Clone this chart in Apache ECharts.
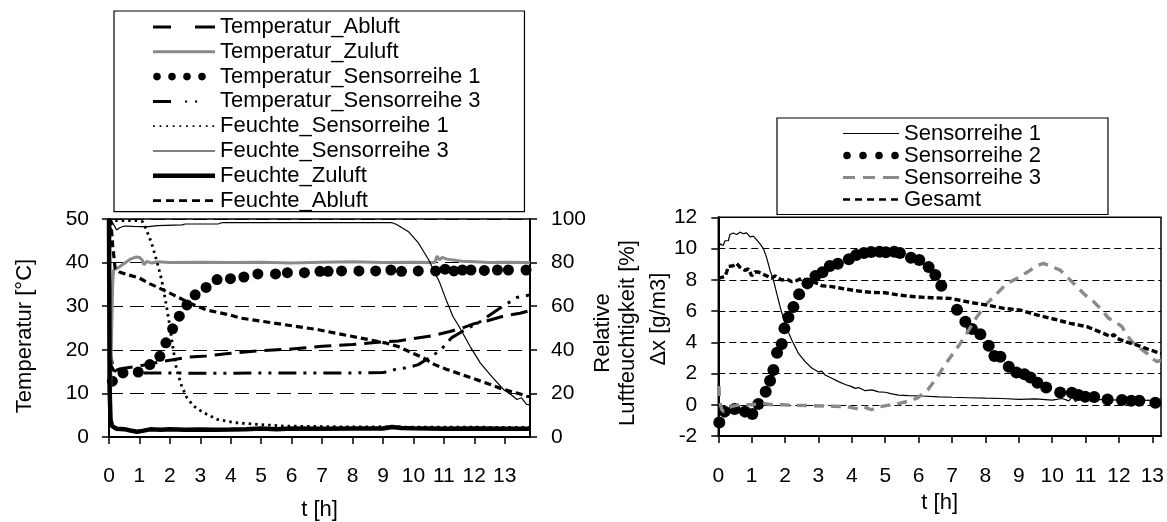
<!DOCTYPE html>
<html>
<head>
<meta charset="utf-8">
<script src="https://cdn.jsdelivr.net/npm/echarts@6/dist/echarts.min.js"></script>
<style>
html,body{margin:0;padding:0;background:#fff;}
#chart{width:1167px;height:522px;}
</style>
</head>
<body>
<div id="chart"></div>
<script>
// ---------- DATA ----------
const hourTicks = [0,1,2,3,4,5,6,7,8,9,10,11,12,13];

// Left chart: temperature [°C]  (left axis)
const temperaturAbluft = [[0,20.5],[0.05,19],[0.12,16.5],[0.2,15.2],[0.35,15.6],[0.6,15.9],[1,16.3],[1.5,17],[2,17.6],[2.6,18.3],[3.2,18.6],[4,19.2],[5,19.8],[6,20.2],[7,20.8],[8,21.2],[9,21.8],[9.5,22],[10,22.6],[10.6,23.2],[11.2,24.2],[11.6,25],[12,26],[12.4,26.6],[13,27.8],[13.5,28.4],[13.83,29]];
const temperaturZuluft = [[0.05,10],[0.09,25],[0.12,35],[0.15,38.3],[0.3,38.8],[0.5,39.8],[0.7,40.8],[0.9,41.3],[1.0,41.2],[1.1,40.5],[1.15,39.5],[1.25,40.3],[1.4,39.9],[1.6,40.2],[2,40],[3,40.1],[4,40],[5,40.1],[6,39.9],[7,40.1],[8,40.2],[9,40],[10,40.1],[10.7,40],[10.78,41.5],[10.85,40.6],[10.95,41.2],[11.1,40.8],[11.3,40.6],[11.6,40.3],[12,40.2],[12.5,40],[13,40.1],[13.83,40]];
const temperaturSensorreihe1 = [[0.11,12.8],[0.46,14.7],[0.96,14.9],[1.34,16.6],[1.67,18.5],[1.87,21.6],[2.09,24.8],[2.31,27.7],[2.56,30.3],[2.83,32.6],[3.19,34.3],[3.55,36.1],[3.99,36.3],[4.43,36.7],[4.89,37.4],[5.47,37.4],[5.86,37.7],[6.42,37.7],[6.93,38.0],[7.2,38.0],[7.64,38.1],[8.21,38.1],[8.76,38.1],[9.26,38.3],[9.61,38.0],[10.16,38.1],[10.73,38.1],[11.04,38.5],[11.33,38.1],[11.61,38.3],[11.89,38.3],[12.33,38.2],[12.76,38.3],[13.12,38.3],[13.7,38.3]];
const temperaturSensorreihe3 = [[0,18.5],[0.06,16.5],[0.15,15.3],[0.3,14.9],[0.6,14.7],[1,14.7],[2,14.7],[3,14.6],[4,14.6],[5,14.7],[6,14.7],[7,14.7],[8,14.7],[9,14.8],[9.2,15],[9.4,15.5],[9.8,15.9],[10.16,16.6],[10.6,18.5],[10.9,20],[11.26,22.8],[11.6,24.2],[12.2,26.5],[12.85,29.6],[13.4,32],[13.83,32.6]];

// Left chart: relative humidity [%]  (right axis)
const feuchteSensorreihe1 = [[0.04,95],[0.08,99.2],[0.3,99.3],[0.6,99.2],[0.9,99.3],[1.1,98.8],[1.23,95],[1.4,88.9],[1.56,81.2],[1.73,72.1],[1.89,59.9],[2.0,50.7],[2.11,40.1],[2.22,31],[2.39,23.3],[2.56,18],[2.78,14.2],[3.1,11.2],[3.55,8.1],[4.1,6.6],[4.87,5.8],[5.75,5],[7,4.8],[8,4.6],[9,4.7],[10,4.5],[11,4.5],[12,4.5],[13,4.4],[13.83,4.4]];
const feuchteSensorreihe3 = [[0,100],[0.08,99],[0.15,97.5],[0.25,95],[0.35,96],[0.5,96.8],[0.8,96.6],[1.05,96.5],[1.3,96.5],[1.6,97],[2.4,97.3],[2.5,97.7],[3.6,97.8],[3.7,98.3],[9.3,98.3],[9.45,97.5],[9.84,94.2],[10.17,88.9],[10.5,81.3],[10.87,70.6],[11.1,62],[11.3,55.3],[11.5,50.7],[11.86,41.6],[12.2,33.9],[12.57,27.8],[12.96,21.8],[13.2,19.5],[13.4,17.2],[13.55,18],[13.72,15],[13.83,14.8]];
const feuchteZuluft = [[0,100],[0.02,22],[0.05,8],[0.1,5],[0.25,3.8],[0.5,3.6],[0.7,3],[0.92,2.4],[1.1,2.8],[1.35,3.5],[1.7,3.3],[2,3.6],[2.5,3.3],[3,3.4],[3.5,3.3],[4,3.4],[4.5,3.6],[5,3.9],[5.5,3.5],[6,3.9],[7,3.8],[8,3.9],[9,3.9],[9.3,4.6],[9.6,4.1],[10,4],[11,3.8],[12,3.9],[13,3.8],[13.83,3.8]];
const feuchteAbluft = [[0,100],[0.06,99],[0.12,88],[0.2,77.5],[0.36,75.6],[0.6,74.5],[1.0,72.9],[1.3,70.5],[1.55,69],[2.1,65.3],[2.66,61.4],[3.2,58.3],[3.96,56],[4.3,54.6],[5.07,53],[5.78,51.5],[6.88,49.2],[7.97,46.2],[9.07,43.2],[9.5,41.5],[9.84,39.3],[10.3,36.5],[10.7,33.2],[11.1,31],[11.58,28.7],[12.36,24.9],[12.96,21.8],[13.4,20.2],[13.72,18.7],[13.83,18.5]];

// Right chart: Δx [g/m3]
const sensorreihe1 = [[0,9.9],[0.05,10.3],[0.15,10.2],[0.2,10.5],[0.3,10.5],[0.35,10.9],[0.45,11.0],[0.55,10.9],[0.65,11.05],[0.75,10.95],[0.85,11.0],[0.95,10.75],[1.05,10.8],[1.15,10.55],[1.25,10.3],[1.35,10.0],[1.45,9.4],[1.55,8.6],[1.65,7.98],[1.75,7.13],[1.85,6.28],[1.95,5.53],[2.05,4.89],[2.2,4.15],[2.4,3.29],[2.6,2.76],[2.8,2.35],[3.0,2.1],[3.1,2.15],[3.2,1.9],[3.4,1.7],[3.6,1.48],[3.8,1.3],[4.0,1.16],[4.1,1.05],[4.2,1.1],[4.4,0.9],[4.6,0.95],[4.8,0.82],[5.0,0.8],[5.2,0.7],[5.4,0.62],[5.7,0.58],[6.1,0.56],[6.6,0.51],[7.0,0.48],[7.5,0.45],[8,0.42],[8.5,0.4],[9,0.35],[9.5,0.38],[10,0.3],[10.3,0.4],[10.5,0.25],[10.6,0.5],[10.7,0.2],[10.8,0.45],[10.9,0.3],[11.1,0.35],[11.5,0.33],[12,0.3],[12.5,0.3],[13,0.28],[13.26,0.3]];
const sensorreihe2 = [[0.03,-1.13],[0.19,-0.44],[0.49,-0.27],[0.8,-0.44],[1.02,-0.59],[1.2,0.05],[1.42,0.84],[1.55,1.54],[1.65,2.22],[1.76,3.33],[1.9,3.89],[1.98,4.89],[2.1,5.6],[2.25,6.26],[2.42,7.07],[2.67,7.77],[2.91,8.24],[3.12,8.48],[3.34,8.88],[3.58,9.03],[3.91,9.31],[4.13,9.58],[4.36,9.71],[4.58,9.78],[4.83,9.8],[5.02,9.76],[5.27,9.8],[5.44,9.71],[5.77,9.41],[6.02,9.26],[6.3,8.82],[6.5,8.3],[6.68,7.62],[7.15,6.08],[7.4,5.32],[7.6,4.85],[7.85,4.51],[8.1,3.78],[8.27,3.12],[8.45,3.08],[8.7,2.44],[8.93,2.07],[9.17,1.95],[9.35,1.75],[9.56,1.41],[9.82,1.11],[10.24,0.79],[10.59,0.77],[10.79,0.62],[10.99,0.51],[11.26,0.49],[11.66,0.34],[12.09,0.3],[12.37,0.26],[12.61,0.26],[13.09,0.13]];
const sensorreihe3 = [[0.02,1.2],[0.04,0.2],[0.1,-0.3],[0.16,-0.44],[0.4,-0.1],[0.7,0.02],[1.0,0.0],[1.3,0.1],[1.6,0.0],[1.9,0.0],[2.29,-0.04],[2.69,-0.05],[3.09,-0.08],[3.49,-0.1],[3.88,-0.13],[4.18,-0.26],[4.38,-0.15],[4.58,-0.32],[4.78,-0.15],[5.07,-0.04],[5.37,0.05],[5.67,0.22],[5.97,0.44],[6.27,0.94],[6.46,1.48],[6.61,1.95],[6.75,2.44],[7.0,3.18],[7.25,3.93],[7.5,4.78],[7.75,5.64],[8.05,6.49],[8.35,7.13],[8.65,7.77],[8.95,8.09],[9.25,8.48],[9.54,8.9],[9.74,9.05],[9.99,8.84],[10.24,8.62],[10.49,8.09],[10.74,7.56],[10.99,7.02],[11.24,6.6],[11.49,6.06],[11.69,5.53],[11.89,5.32],[12.09,5.0],[12.24,4.47],[12.39,4.04],[12.64,3.61],[12.84,3.29],[12.99,2.97],[13.14,2.76],[13.26,2.86]];
const gesamt = [[0,8.1],[0.1,8.15],[0.2,8.2],[0.25,8.5],[0.3,8.85],[0.45,8.9],[0.55,9.05],[0.65,8.8],[0.8,8.6],[0.9,8.7],[1.0,8.25],[1.1,8.5],[1.2,8.5],[1.4,8.3],[1.6,8.1],[1.7,8.25],[1.9,7.98],[2.05,8.05],[2.2,7.88],[2.35,7.95],[2.5,8.1],[2.65,7.95],[2.8,7.88],[3.0,7.75],[3.1,7.62],[3.4,7.56],[3.8,7.41],[4.2,7.28],[4.6,7.19],[5.0,7.17],[5.4,7.02],[5.9,6.91],[6.4,6.85],[6.95,6.81],[7.55,6.55],[8.05,6.38],[8.55,6.17],[9.05,6.06],[9.54,5.75],[10.04,5.49],[10.54,5.21],[11.04,5.0],[11.54,4.57],[11.75,4.35],[11.85,4.5],[11.94,4.25],[12.14,4.08],[12.54,3.82],[12.94,3.5],[13.26,3.29]];

// ---------- STYLE ----------
const FONT = 'Liberation Sans, Arial, Helvetica, sans-serif';
const FS = 21;      // tick labels
const FS_T = 22;    // legend + axis names
const GRAY = '#8a8a8a';

// legend icons (62x12 / 56x12 frames)
const ICON = {
  tAbluft: 'path://M0 0M62 12M0 4.5h18v3h-18zM42 4.5h20v3h-20z',
  tZuluft: 'path://M0 0M62 12M0 4.5h62v3h-62z',
  tSR1: 'path://M0 0M62 12M0.2 6a3.8 3.8 0 1 0 7.6 0a3.8 3.8 0 1 0 -7.6 0zM15.2 6a3.8 3.8 0 1 0 7.6 0a3.8 3.8 0 1 0 -7.6 0zM30.2 6a3.8 3.8 0 1 0 7.6 0a3.8 3.8 0 1 0 -7.6 0zM45.2 6a3.8 3.8 0 1 0 7.6 0a3.8 3.8 0 1 0 -7.6 0z',
  tSR3: 'path://M0 0M62 12M0 4.5h18v3h-18zM32 5h2.2v2.2h-2.2zM42 5h2.2v2.2h-2.2z',
  fSR1: 'path://M0 0M62 12M0 5.1h1.8v1.8h-1.8zM6.6 5.1h1.8v1.8h-1.8zM13.2 5.1h1.8v1.8h-1.8zM19.8 5.1h1.8v1.8h-1.8zM26.4 5.1h1.8v1.8h-1.8zM33 5.1h1.8v1.8h-1.8zM39.6 5.1h1.8v1.8h-1.8zM46.2 5.1h1.8v1.8h-1.8zM52.8 5.1h1.8v1.8h-1.8zM59.4 5.1h1.8v1.8h-1.8z',
  fSR3: 'path://M0 0M62 12M0 5.4h62v1.2h-62z',
  fZuluft: 'path://M0 0M62 12M0 3.8h62v4.4h-62z',
  fAbluft: 'path://M0 0M62 12M0 4.7h8v2.6h-8zM13 4.7h8v2.6h-8zM26 4.7h8v2.6h-8zM39 4.7h8v2.6h-8zM52 4.7h8v2.6h-8z',
  sr1: 'path://M0 0M56 12M0 5.4h56v1.2h-56z',
  sr2: 'path://M0 0M56 12M0.2 6a3.8 3.8 0 1 0 7.6 0a3.8 3.8 0 1 0 -7.6 0zM16.2 6a3.8 3.8 0 1 0 7.6 0a3.8 3.8 0 1 0 -7.6 0zM32.2 6a3.8 3.8 0 1 0 7.6 0a3.8 3.8 0 1 0 -7.6 0zM48.2 6a3.8 3.8 0 1 0 7.6 0a3.8 3.8 0 1 0 -7.6 0z',
  sr3: 'path://M0 0M56 12M0 4.5h12v3h-12zM20 4.5h12v3h-12zM40 4.5h16v3h-16z',
  ges: 'path://M0 0M56 12M0 4.7h7v2.6h-7zM12 4.7h7v2.6h-7zM24 4.7h7v2.6h-7zM36 4.7h7v2.6h-7zM48 4.7h7v2.6h-7z'
};

const txt = {fontSize: FS, color: '#000', fontFamily: FONT};
const txtT = {fontSize: FS_T, color: '#000', fontFamily: FONT};
function li(name, icon, color) {
  return {name: name, icon: icon, itemStyle: {color: color || '#000', borderWidth: 0}};
}

function xAx(gridIndex, max, labelMargin, nameGap) {
  return {
    type: 'value', gridIndex: gridIndex, min: 0, max: max,
    axisLine: {onZero: false, lineStyle: {color: '#000', width: 2}},
    axisTick: {length: 7, lineStyle: {color: '#000', width: 1.5}, customValues: hourTicks},
    axisLabel: {margin: labelMargin, customValues: hourTicks, ...txt},
    splitLine: {show: false},
    name: 't [h]', nameLocation: 'middle', nameGap: nameGap, nameTextStyle: {...txtT}
  };
}

const option = {
  animation: false,
  backgroundColor: '#fff',
  grid: [
    {left: 109, top: 219, width: 421, height: 218.7, show: true, borderColor: '#000', borderWidth: 1.5},
    {left: 718.3, top: 217.3, width: 443, height: 218.7, show: true, borderColor: '#000', borderWidth: 1.5}
  ],
  legend: [
    {
      orient: 'vertical', left: 114, top: 11, padding: [5, 44, 0, 39], itemGap: 2.8,
      itemWidth: 62, itemHeight: 12, borderColor: '#000', borderWidth: 1.2,
      selectedMode: false, textStyle: {...txtT}, itemStyle: {borderWidth: 0},
      data: [
        li('Temperatur_Abluft', ICON.tAbluft),
        li('Temperatur_Zuluft', ICON.tZuluft, GRAY),
        li('Temperatur_Sensorreihe 1', ICON.tSR1),
        li('Temperatur_Sensorreihe 3', ICON.tSR3),
        li('Feuchte_Sensorreihe 1', ICON.fSR1),
        li('Feuchte_Sensorreihe 3', ICON.fSR3),
        li('Feuchte_Zuluft', ICON.fZuluft),
        li('Feuchte_Abluft', ICON.fAbluft)
      ]
    },
    {
      orient: 'vertical', left: 777, top: 118, padding: [4.5, 67, 4, 66], itemGap: 0,
      itemWidth: 56, itemHeight: 12, borderColor: '#000', borderWidth: 1.2,
      selectedMode: false, textStyle: {...txtT}, itemStyle: {borderWidth: 0},
      data: [
        li('Sensorreihe 1', ICON.sr1),
        li('Sensorreihe 2', ICON.sr2),
        li('Sensorreihe 3', ICON.sr3, GRAY),
        li('Gesamt', ICON.ges)
      ]
    }
  ],
  xAxis: [xAx(0, 13.83, 29, 62), xAx(1, 13.26, 30, 56)],
  yAxis: [
    {
      type: 'value', gridIndex: 0, position: 'left', min: 0, max: 50, interval: 10,
      axisLine: {show: true, lineStyle: {color: '#000', width: 2}},
      axisTick: {show: true, length: 7, lineStyle: {color: '#000', width: 1.5}},
      axisLabel: {margin: 20, ...txt},
      splitLine: {show: true, lineStyle: {color: '#000', width: 1.2, type: [14, 7]}},
      name: 'Temperatur [°C]', nameLocation: 'middle', nameGap: 73,
      nameTextStyle: {...txtT, padding: [0, 16, 0, 0]}
    },
    {
      type: 'value', gridIndex: 0, position: 'right', min: 0, max: 100, interval: 20,
      axisLine: {show: true, lineStyle: {color: '#000', width: 2}},
      axisTick: {show: true, length: 7, lineStyle: {color: '#000', width: 1.5}},
      axisLabel: {margin: 21, ...txt},
      splitLine: {show: false},
      name: 'Relative\nLuftfeuchtigkeit [%]', nameLocation: 'middle', nameGap: 59,
      nameTextStyle: {...txtT, lineHeight: 25, padding: [0, 10, 0, 0]}
    },
    {
      type: 'value', gridIndex: 1, position: 'left', min: -2, max: 12, interval: 2,
      axisLine: {show: true, onZero: false, lineStyle: {color: '#000', width: 2}},
      axisTick: {show: true, length: 7, lineStyle: {color: '#000', width: 1.5}},
      axisLabel: {margin: 21, ...txt},
      splitLine: {show: true, lineStyle: {color: '#000', width: 1.2, type: [7, 4]}},
      name: 'Δx [g/m3]', nameLocation: 'middle', nameGap: 33,
      nameTextStyle: {...txtT, padding: [0, 0, 0, 15]}
    }
  ],
  series: [
    {name: 'Temperatur_Abluft', type: 'line', xAxisIndex: 0, yAxisIndex: 0, data: temperaturAbluft, showSymbol: false, symbol: 'none',
      lineStyle: {color: '#000', width: 3, type: [17, 8]}, itemStyle: {color: '#000'}},
    {name: 'Temperatur_Zuluft', type: 'line', xAxisIndex: 0, yAxisIndex: 0, data: temperaturZuluft, showSymbol: false, symbol: 'none',
      lineStyle: {color: GRAY, width: 3}, itemStyle: {color: GRAY}},
    {name: 'Temperatur_Sensorreihe 3', type: 'line', xAxisIndex: 0, yAxisIndex: 0, data: temperaturSensorreihe3, showSymbol: false, symbol: 'none',
      lineStyle: {color: '#000', width: 3, type: [18, 7, 3, 7, 3, 7]}, itemStyle: {color: '#000'}},
    {name: 'Feuchte_Sensorreihe 1', type: 'line', xAxisIndex: 0, yAxisIndex: 1, data: feuchteSensorreihe1, showSymbol: false, symbol: 'none',
      lineStyle: {color: '#000', width: 2.8, type: [2.5, 4]}, itemStyle: {color: '#000'}},
    {name: 'Feuchte_Sensorreihe 3', type: 'line', xAxisIndex: 0, yAxisIndex: 1, data: feuchteSensorreihe3, showSymbol: false, symbol: 'none',
      lineStyle: {color: '#000', width: 1.2}, itemStyle: {color: '#000'}},
    {name: 'Feuchte_Zuluft', type: 'line', xAxisIndex: 0, yAxisIndex: 1, data: feuchteZuluft, showSymbol: false, symbol: 'none',
      lineStyle: {color: '#000', width: 4.5}, itemStyle: {color: '#000'}},
    {name: 'Feuchte_Abluft', type: 'line', xAxisIndex: 0, yAxisIndex: 1, data: feuchteAbluft, showSymbol: false, symbol: 'none',
      lineStyle: {color: '#000', width: 3.2, type: [7, 4]}, itemStyle: {color: '#000'}},
    {name: 'Temperatur_Sensorreihe 1', type: 'scatter', xAxisIndex: 0, yAxisIndex: 0, data: temperaturSensorreihe1,
      symbol: 'circle', symbolSize: 11, itemStyle: {color: '#000', opacity: 1}},

    {name: 'Sensorreihe 1', type: 'line', xAxisIndex: 1, yAxisIndex: 2, data: sensorreihe1, showSymbol: false, symbol: 'none',
      lineStyle: {color: '#000', width: 1.2}, itemStyle: {color: '#000'}},
    {name: 'Sensorreihe 3', type: 'line', xAxisIndex: 1, yAxisIndex: 2, data: sensorreihe3, showSymbol: false, symbol: 'none',
      lineStyle: {color: GRAY, width: 3.4, type: [10, 7]}, itemStyle: {color: GRAY}},
    {name: 'Gesamt', type: 'line', xAxisIndex: 1, yAxisIndex: 2, data: gesamt, showSymbol: false, symbol: 'none',
      lineStyle: {color: '#000', width: 3.4, type: [6, 3]}, itemStyle: {color: '#000'}},
    {name: 'Sensorreihe 2', type: 'scatter', xAxisIndex: 1, yAxisIndex: 2, data: sensorreihe2,
      symbol: 'circle', symbolSize: 12, itemStyle: {color: '#000', opacity: 1}}
  ]
};

const chart = echarts.init(document.getElementById('chart'), null, {renderer: 'canvas'});
chart.setOption(option);
</script>
</body>
</html>
